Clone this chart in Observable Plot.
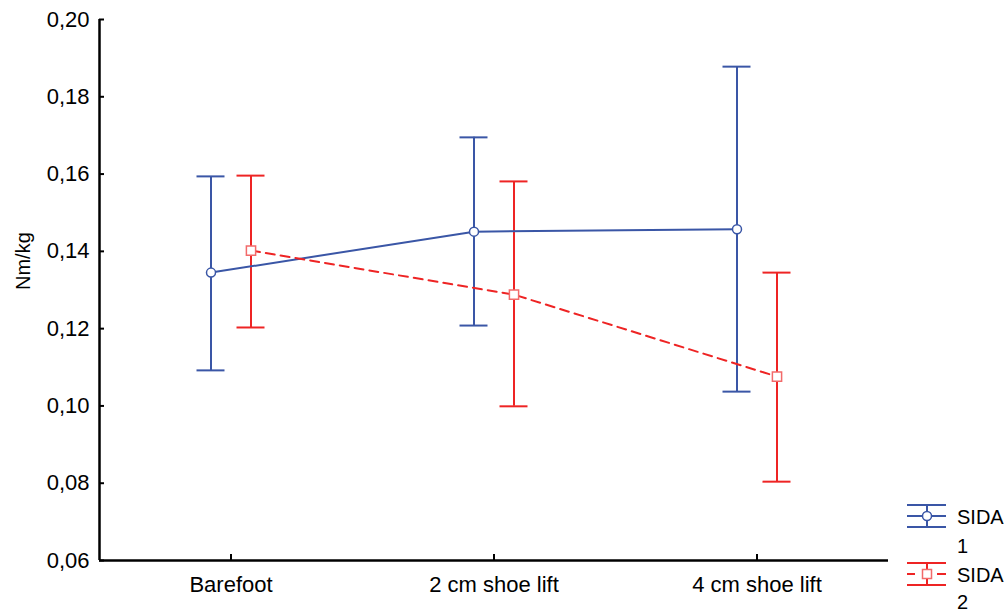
<!DOCTYPE html>
<html>
<head>
<meta charset="utf-8">
<script src="https://cdn.jsdelivr.net/npm/d3@7"></script>
<script src="https://cdn.jsdelivr.net/npm/@observablehq/plot@0.6"></script>
<style>
  html, body { margin: 0; padding: 0; background: #fff; }
  #chart { position: relative; width: 1006px; height: 612px; }
  svg { font-family: "Liberation Sans", Arial, sans-serif; }
</style>
</head>
<body>
<div id="chart"></div>
<script>
const categories = ["Barefoot", "2 cm shoe lift", "4 cm shoe lift"];
const seriesNames = ["SIDA 1", "SIDA 2"];
const sida1Mean = [0.1345, 0.1451, 0.1457];
const sida1Lo   = [0.1092, 0.1208, 0.1037];
const sida1Hi   = [0.1594, 0.1695, 0.1878];
const sida2Mean = [0.1402, 0.1288, 0.1076];
const sida2Lo   = [0.1203, 0.0999, 0.0804];
const sida2Hi   = [0.1596, 0.1581, 0.1345];
const yTicks = [0.06, 0.08, 0.10, 0.12, 0.14, 0.16, 0.18, 0.20];

const BLUE = "#3A56A6", RED = "#EE2424";
const rows = (mean, lo, hi) => categories.map((c, i) => ({i, cat: c, mean: mean[i], lo: lo[i], hi: hi[i]}));
const series = [
  {name: seriesNames[0], data: rows(sida1Mean, sida1Lo, sida1Hi), color: BLUE, dx: -20, symbol: "circle", r: 4.5, dash: null, dotStroke: BLUE},
  {name: seriesNames[1], data: rows(sida2Mean, sida2Lo, sida2Hi), color: RED, dx: 20, symbol: "square", r: 5.2, dash: "9,6", dotStroke: "#F26A6A"}
];
const capHalf = 14 / 263;
const fmt = d => d3.format(".2f")(d).replace(".", ",");

const marks = [];
for (const s of series) {
  marks.push(Plot.ruleX(s.data, {x: "i", y1: "lo", y2: "hi", dx: s.dx, stroke: s.color, strokeWidth: 2}));
  marks.push(Plot.ruleY(s.data, {y: "hi", x1: d => d.i - capHalf, x2: d => d.i + capHalf, dx: s.dx, stroke: s.color, strokeWidth: 2}));
  marks.push(Plot.ruleY(s.data, {y: "lo", x1: d => d.i - capHalf, x2: d => d.i + capHalf, dx: s.dx, stroke: s.color, strokeWidth: 2}));
}
for (const s of series) {
  marks.push(Plot.line(s.data, {x: "i", y: "mean", dx: s.dx, stroke: s.color, strokeWidth: 2, strokeDasharray: s.dash}));
}
for (const s of series) {
  marks.push(Plot.dot(s.data, {x: "i", y: "mean", dx: s.dx, symbol: s.symbol, r: s.r, fill: "white", stroke: s.dotStroke, strokeWidth: 1.5}));
}

const plot = Plot.plot({
  width: 1006,
  height: 612,
  marginLeft: 99,
  marginRight: 118,
  marginTop: 19,
  marginBottom: 52,
  style: {fontFamily: "'Liberation Sans', Arial, sans-serif", fontSize: "22px", background: "white", color: "black"},
  x: {type: "linear", domain: [-0.5, 2.5]},
  y: {domain: [0.06, 0.20]},
  marks: [
    Plot.axisY({ticks: yTicks, tickFormat: fmt, tickSize: -5, tickPadding: 15, strokeWidth: 2, label: null, fontSize: 22}),
    Plot.axisX({ticks: [0, 1, 2], tickFormat: i => categories[i], tickSize: -6, tickPadding: 22, strokeWidth: 2, label: null, fontSize: 22}),
    Plot.ruleX([-0.5], {stroke: "black", strokeWidth: 2.5}),
    Plot.ruleY([0.06], {stroke: "black", strokeWidth: 2.5}),
    Plot.text(["Nm/kg"], {frameAnchor: "left", rotate: -90, dx: -76, fontSize: 20, fill: "black"}),
    ...marks
  ]
});
document.getElementById("chart").appendChild(plot);

// Legend (bottom right)
const svg = d3.select(plot);
const lg = svg.append("g")
  .attr("font-family", "'Liberation Sans', Arial, sans-serif")
  .attr("font-size", 20)
  .attr("text-anchor", "start");
const items = [
  {s: series[0], y: 516, t1: 524, t2: 553},
  {s: series[1], y: 574, t1: 582, t2: 609}
];
for (const it of items) {
  const {s, y} = it;
  const x0 = 907, x1 = 946, xc = 927;
  lg.append("line").attr("x1", x0).attr("x2", x1).attr("y1", y - 11).attr("y2", y - 11).attr("stroke", s.color).attr("stroke-width", 2);
  lg.append("line").attr("x1", x0).attr("x2", x1).attr("y1", y + 11).attr("y2", y + 11).attr("stroke", s.color).attr("stroke-width", 2);
  lg.append("line").attr("x1", xc).attr("x2", xc).attr("y1", y - 11).attr("y2", y + 11).attr("stroke", s.color).attr("stroke-width", 2);
  lg.append("line").attr("x1", x0).attr("x2", x1).attr("y1", y).attr("y2", y).attr("stroke", s.color).attr("stroke-width", 2)
    .attr("stroke-dasharray", s.dash ? "8,22,9" : null);
  if (s.symbol === "circle") {
    lg.append("circle").attr("cx", xc).attr("cy", y).attr("r", 4.5).attr("fill", "white").attr("stroke", s.dotStroke).attr("stroke-width", 1.5);
  } else {
    lg.append("rect").attr("x", xc - 4.5).attr("y", y - 4.5).attr("width", 9).attr("height", 9).attr("fill", "white").attr("stroke", s.dotStroke).attr("stroke-width", 1.5);
  }
  const parts = s.name.split(" ");
  lg.append("text").attr("x", 957).attr("y", it.t1).attr("fill", "black").text(parts[0]);
  lg.append("text").attr("x", 957).attr("y", it.t2).attr("fill", "black").text(parts[1]);
}
</script>
</body>
</html>
